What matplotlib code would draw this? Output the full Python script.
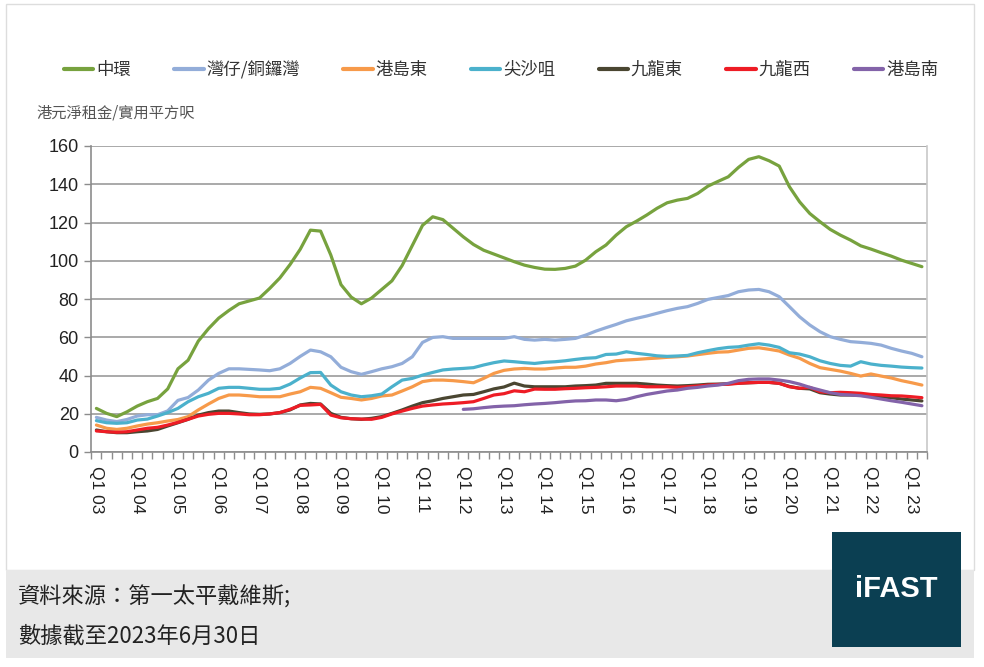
import numpy as np
import matplotlib
matplotlib.use("Agg")
import matplotlib.pyplot as plt
from matplotlib.patches import Rectangle
from matplotlib.lines import Line2D

# ---------------- data ----------------
series_names = ["中環", "灣仔/銅鑼灣", "港島東", "尖沙咀", "九龍東", "九龍西", "港島南"]
series_colors = ["#77A23E", "#93ADD9", "#F79A4A", "#4BB1CC", "#4A4631", "#EE1C25", "#8363A9"]

tick_labels = ["Q1 03", "Q1 04", "Q1 05", "Q1 06", "Q1 07", "Q1 08", "Q1 09",
               "Q1 10", "Q1 11", "Q1 12", "Q1 13", "Q1 14", "Q1 15", "Q1 16",
               "Q1 17", "Q1 18", "Q1 19", "Q1 20", "Q1 21", "Q1 22", "Q1 23"]

central = [22.8, 20.2, 18.5, 21, 24, 26.3, 28, 33, 43.5, 48, 58, 64.5, 70, 74, 77.5, 79,
           80.5, 85.5, 91, 98, 106, 116, 115.5, 103, 87.5, 81, 77.5, 80.5, 85, 89.5, 97.5,
           108, 118.5, 123, 121.5, 117, 112.5, 108.5, 105.5, 103.5, 101.5, 99.5, 97.7, 96.5,
           95.6, 95.5, 96, 97.2, 100.3, 104.7, 108.2, 113.4, 117.8, 120.7, 123.9, 127.4,
           130.3, 131.7, 132.6, 135.2, 139, 141.5, 143.9, 148.8, 153, 154.4, 152.3, 149.5,
           138.7, 130.8, 124.7, 120.4, 116.4, 113.4, 110.8, 107.8, 106.1, 104.2, 102.4,
           100.3, 98.6, 96.9]

wanchai = [18.1, 16.7, 15.9, 17, 18.8, 19.5, 19.5, 21.5, 27, 28.5, 32.4, 37.6, 41.1, 43.5,
           43.5, 43.2, 42.9, 42.5, 43.5, 46.3, 50, 53.3, 52.4, 49.8, 44.3, 42, 40.6, 42,
           43.5, 44.6, 46.3, 49.8, 57.3, 59.9, 60.3, 59.4, 59.4, 59.4, 59.4, 59.4, 59.4,
           60.3, 58.9, 58.5, 58.9, 58.5, 58.9, 59.4, 61.1, 63.2, 65, 66.7, 68.6, 69.9, 71.1,
           72.5, 73.9, 75.1, 76, 77.7, 79.8, 80.8, 81.8, 83.8, 84.7, 85, 83.8, 81.2, 76,
           70.7, 66.4, 62.9, 60.3, 58.9, 57.7, 57.3, 56.8, 55.9, 54.2, 52.8, 51.6, 49.8]

hk_east = [14.1, 12.4, 11.8, 12.4, 13.6, 14.6, 15.3, 16.2, 17, 18.5, 22, 25.1, 28, 29.8,
           29.8, 29.4, 28.9, 28.9, 28.9, 30.3, 31.5, 33.8, 33.3, 31, 28.6, 28, 27.2, 28,
           29.3, 29.8, 31.9, 34.1, 36.8, 37.6, 37.6, 37.3, 36.8, 36.2, 38.5, 41.1, 42.7,
           43.4, 43.7, 43.4, 43.4, 43.9, 44.3, 44.3, 44.9, 46, 46.7, 47.7, 48.1, 48.4, 48.8,
           49.1, 49.5, 49.8, 50.2, 50.9, 51.6, 52.2, 52.4, 53.3, 54.2, 54.5, 53.7, 52.8,
           50.7, 49, 46.3, 44.1, 43.2, 42.3, 41.1, 39.7, 40.8, 39.7, 38.7, 37.3, 36.2, 35]

tst = [16.4, 15.3, 15, 15.3, 16.7, 17.2, 18.8, 20.6, 22.8, 26.3, 28.9, 30.7, 33.3, 33.8,
       33.8, 33.3, 32.8, 32.8, 33.3, 35.5, 38.7, 41.5, 41.6, 35, 31.5, 29.8, 28.9, 29.4,
       30.3, 34.1, 37.6, 38.5, 40.2, 41.6, 42.9, 43.4, 43.7, 44.1, 45.5, 46.7, 47.6,
       47.2, 46.7, 46.3, 46.9, 47.2, 47.7, 48.4, 49, 49.3, 51, 51.2, 52.4, 51.6, 51,
       50.3, 50, 50.2, 50.5, 51.9, 53, 54, 54.7, 55, 55.9, 56.6, 55.9, 54.7, 51.9, 51.2,
       49.8, 47.7, 46.3, 45.3, 44.9, 47.2, 46, 45.3, 44.9, 44.4, 44.1, 43.9]

kln_east = [11.5, 10.6, 10.1, 10.1, 10.6, 11, 11.8, 13.6, 15.3, 17.1, 19.3, 20.6, 21.4,
            21.4, 20.6, 19.9, 19.7, 19.9, 20.6, 22, 24.6, 25.4, 25.1, 20.2, 18.1, 17.4,
            17.1, 17.6, 18.5, 20.2, 22, 24, 25.8, 26.8, 28, 28.9, 29.8, 30.1, 31.5, 33, 34,
            36, 34.5, 34.1, 34.1, 34.1, 34.1, 34.5, 34.7, 35, 35.9, 35.9, 35.9, 35.9, 35.5,
            35, 34.7, 34.5, 34.7, 35, 35.4, 35.5, 35.7, 36, 36.2, 36.4, 36.4, 35.9, 34.3,
            33.3, 33, 31, 30.3, 29.8, 29.8, 29.6, 29.4, 28.9, 28.4, 27.7, 27.2, 26.7]

kln_west = [11, 10.6, 10.3, 10.6, 11.5, 12.4, 12.9, 14.1, 15.5, 17.1, 18.8, 19.7, 20.2,
            20.2, 19.9, 19.5, 19.5, 19.9, 20.6, 22.3, 24.4, 24.6, 24.9, 19.3, 17.9, 17.4,
            17.2, 17.1, 18.1, 19.9, 21.4, 22.8, 24, 24.6, 25.1, 25.4, 25.8, 26.3, 28, 29.8,
            30.5, 32, 31.5, 32.9, 32.8, 32.8, 33.1, 33.3, 33.6, 33.8, 34.1, 34.5, 34.5, 34.5,
            34.1, 34.1, 34.1, 33.8, 34.1, 34.5, 35, 35.3, 35.4, 35.9, 36.2, 36.4, 36.4, 35.9,
            34.1, 33.3, 33.8, 31.5, 31, 31.2, 31, 30.7, 30.1, 29.8, 29.4, 29.3, 28.9, 28.4]

hk_south = [np.nan] * 36 + [
            22.3, 22.6, 23.2, 23.7, 24, 24.2, 24.7, 25.1, 25.4, 25.8, 26.3, 26.7, 26.8,
            27.2, 27.2, 26.8, 27.5, 28.9, 30.1, 31, 31.9, 32.4, 33.3, 33.8, 34.5, 35, 35.9,
            37.3, 38, 38.2, 38.2, 37.6, 36.8, 35.5, 33.8, 32.4, 31, 30.1, 29.8, 29.4, 28.6,
            27.7, 26.8, 26, 25.1, 24.2]

all_series = [central, wanchai, hk_east, tst, kln_east, kln_west, hk_south]

# ---------------- figure ----------------
W, H = 984, 667
CJK = ["Noto Sans CJK TC", "DejaVu Sans"]
plt.rcParams["font.family"] = ["Liberation Sans", "Noto Sans CJK TC", "DejaVu Sans"]

fig = plt.figure(figsize=(W / 100, H / 100), dpi=100)
fig.patch.set_facecolor("white")


def frect(x0, y0, x1, y1, **kw):
    r = Rectangle((x0 / W, 1 - y1 / H), (x1 - x0) / W, (y1 - y0) / H,
                  transform=fig.transFigure, **kw)
    fig.add_artist(r)
    return r


frect(6, 4, 974, 570, facecolor="white", edgecolor="#DDDDDD", lw=1.0, zorder=0)
frect(6, 570, 974, 658, facecolor="#E8E8E8", edgecolor="none", zorder=0)
frect(832, 532, 961, 647, facecolor="#0B3F52", edgecolor="none", zorder=2)
fig.text(896.5 / W, 1 - 589 / H, "iFAST", color="white", fontsize=21, fontweight="bold",
         ha="center", va="center", family="Liberation Sans", zorder=3)

fig.text(18 / W, 1 - 597 / H, "資料來源：第一太平戴維斯;", fontsize=16, color="#222222",
         ha="left", va="center", family=CJK)
fig.text(18 / W, 1 - 636 / H, "數據截至2023年6月30日", fontsize=16, color="#222222",
         ha="left", va="center", family=CJK)

fig.text(36 / W, 1 - 113 / H, "港元淨租金/實用平方呎", fontsize=11, color="#555555",
         ha="left", va="center", family=CJK)

# axes
x0, x1, ytop, ybot = 91.3, 927, 146, 452
ax = fig.add_axes([x0 / W, 1 - ybot / H, (x1 - x0) / W, (ybot - ytop) / H])
n = len(central)
x = np.arange(n)

handles = []
for name, vals, col in zip(series_names, all_series, series_colors):
    ln, = ax.plot(x, vals, color=col, lw=2.3, label=name, solid_joinstyle="round",
                  solid_capstyle="round", zorder=3)
    handles.append(ln)

ax.set_xlim(-0.5, n - 0.5)
ax.set_ylim(0, 160)
ax.set_yticks(np.arange(0, 161, 20))
ax.grid(axis="y", color="#A3A3A3", lw=1.3, zorder=1)
ax.set_axisbelow(True)

ax.set_xticks(np.arange(0, n, 4)[:len(tick_labels)])
ax.set_xticklabels(tick_labels, rotation=-90, fontsize=12.5, color="#222222")
ax.set_xticks(np.arange(-0.5, n, 1), minor=True)
ax.tick_params(axis="x", which="major", length=0, pad=10)
ax.tick_params(axis="x", which="minor", length=5, width=1, color="#8C8C8C", direction="out")
ax.tick_params(axis="y", which="major", length=5, width=1, color="#8C8C8C",
               labelsize=13, labelcolor="#222222", pad=4)
for lab in ax.get_yticklabels():
    lab.set_family("Liberation Sans")

ax.spines["top"].set_visible(False)
ax.spines["left"].set_color("#8C8C8C")
ax.spines["bottom"].set_color("#8C8C8C")
ax.spines["right"].set_color("#C8C8C8")
for s in ax.spines.values():
    s.set_linewidth(1.2)

leg = fig.legend(handles=handles, labels=series_names, loc="center",
                 bbox_to_anchor=(501 / W, 1 - 70 / H), ncol=7, frameon=False,
                 prop={"family": CJK, "size": 12.5}, handlelength=1.7,
                 handletextpad=0.15, columnspacing=2.5, borderaxespad=0)
for t in leg.get_texts():
    t.set_color("#333333")
for lh in leg.get_lines():
    lh.set_linewidth(3)

fig.savefig("out.png", dpi=100)
